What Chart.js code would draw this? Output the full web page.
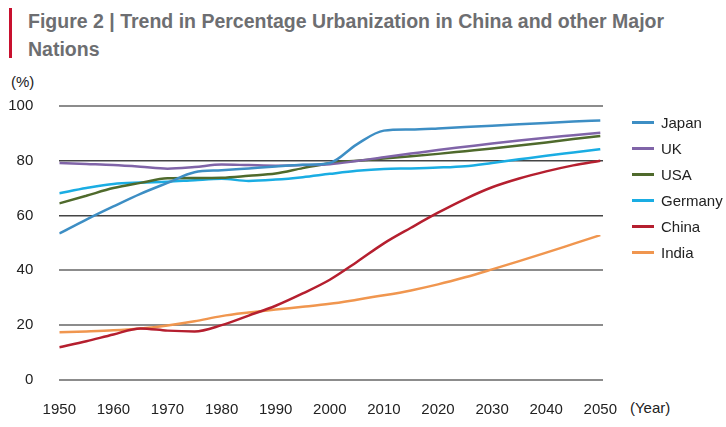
<!DOCTYPE html>
<html>
<head>
<meta charset="utf-8">
<script src="https://cdn.jsdelivr.net/npm/chart.js@4"></script>
<style>
  body { margin: 0; background: #fff; font-family: "Liberation Sans", Arial, sans-serif; }
  #wrap { position: relative; width: 726px; height: 427px; overflow: hidden; }
  #bar { position: absolute; left: 9px; top: 8px; width: 3px; height: 50px; background: #c8102e; }
  #title { position: absolute; left: 28px; top: 7px; font-size: 19.5px; line-height: 28px; font-weight: bold; color: #6d6e71; white-space: nowrap; }
  .unit { position: absolute; font-size: 15px; line-height: 15px; color: #222; }
  #legend { position: absolute; left: 0; top: 0; }
  .item { position: absolute; font-size: 15px; line-height: 15px; color: #222; }
  .item span { position: absolute; left: -29px; top: 6px; width: 22px; height: 3px; }
  canvas { position: absolute; left: 0; top: 0; }
</style>
</head>
<body>
<div id="wrap">
  <div id="bar"></div>
  <div id="title">Figure 2 | Trend in Percentage Urbanization in China and other Major<br>Nations</div>
  <div class="unit" style="left:11px; top:74px;">(%)</div>
  <div class="unit" style="left:630px; top:400px;">(Year)</div>
  <canvas id="chart" width="726" height="427"></canvas>
  <div id="legend"></div>
</div>
<script>
// Urbanisation (%), every 5 years
var years = [1950, 1955, 1960, 1965, 1970, 1975, 1980, 1985, 1990, 1995, 2000,
             2005, 2010, 2015, 2020, 2025, 2030, 2035, 2040, 2045, 2050];
var japan   = [53.4, 58.5, 63.3, 67.9, 71.9, 75.8, 76.5, 77.2, 77.9, 78.5, 79.2, 86.0, 91.0, 91.4, 91.8, 92.3, 92.8, 93.3, 93.8, 94.3, 94.7];
var uk      = [79.2, 78.8, 78.4, 77.8, 77.1, 77.7, 78.6, 78.4, 78.2, 78.4, 78.7, 79.9, 81.3, 82.6, 83.9, 85.1, 86.3, 87.4, 88.4, 89.3, 90.2];
var usa     = [64.4, 67.2, 70.0, 71.9, 73.6, 73.7, 73.8, 74.5, 75.3, 77.3, 79.1, 80.0, 80.8, 81.6, 82.5, 83.5, 84.5, 85.6, 86.7, 87.9, 89.0];
var germany = [68.1, 70.0, 71.5, 72.0, 72.3, 72.9, 73.4, 72.6, 73.1, 74.0, 75.2, 76.3, 77.0, 77.2, 77.5, 78.0, 79.2, 80.5, 81.8, 83.0, 84.2];
var china   = [11.8, 14.0, 16.5, 18.7, 17.9, 17.6, 19.9, 23.4, 27.0, 31.5, 36.5, 43.0, 49.8, 55.5, 61.0, 66.0, 70.3, 73.5, 76.1, 78.3, 80.0];
var india   = [17.3, 17.6, 18.0, 18.7, 19.8, 21.3, 23.2, 24.5, 25.6, 26.6, 27.7, 29.2, 30.8, 32.6, 34.8, 37.4, 40.3, 43.3, 46.4, 49.6, 52.8];

var nations = ['Japan', 'UK', 'USA', 'Germany', 'China', 'India'];
var series  = [japan, uk, usa, germany, china, india];
var couleurs = ['#3d8ec4', '#8064a8', '#4f6a2c', '#1aade3', '#b51f2f', '#f0964f'];

var xTicks = [1950, 1960, 1970, 1980, 1990, 2000, 2010, 2020, 2030, 2040, 2050];
var yTicks = [0, 20, 40, 60, 80, 100];

var police = { family: '"Liberation Sans", Arial, sans-serif', size: 15 };

var datasets = series.map(function (vals, i) {
  return {
    label: nations[i],
    data: vals.map(function (v, j) { return { x: years[j], y: v }; }),
    borderColor: couleurs[i],
    backgroundColor: couleurs[i],
    borderWidth: 2.5,
    pointRadius: 0,
    cubicInterpolationMode: 'monotone',
    fill: false
  };
});

var ctx = document.getElementById('chart').getContext('2d');
var chart = new Chart(ctx, {
  type: 'line',
  data: { datasets: datasets },
  options: {
    responsive: false,
    animation: false,
    layout: { padding: { top: 106, right: 123, bottom: 0, left: 0 } },
    plugins: { legend: { display: false }, tooltip: { enabled: false } },
    scales: {
      x: {
        type: 'linear',
        min: 1950,
        max: 2050.5,
        afterBuildTicks: function (s) { s.ticks = xTicks.map(function (v) { return { value: v }; }); },
        afterFit: function (s) { s.height = 47.4; },
        grid: { display: false },
        border: { display: false },
        ticks: { color: '#222', font: police, padding: 13, maxRotation: 0,
                 callback: function (v) { return String(v); } }
      },
      y: {
        min: 0,
        max: 100,
        afterBuildTicks: function (s) { s.ticks = yTicks.map(function (v) { return { value: v }; }); },
        afterFit: function (s) { s.width = 59.3; },
        border: { display: false },
        grid: {
          drawTicks: false,
          color: function (c) { return (c.tick && (c.tick.value === 80 || c.tick.value === 60)) ? '#444' : '#8c8c8c'; },
          lineWidth: function (c) { return (c.tick && (c.tick.value === 80 || c.tick.value === 60)) ? 1.5 : 2; }
        },
        ticks: { color: '#222', font: police, padding: 26 }
      }
    }
  }
});

// Légende à droite
var leg = document.getElementById('legend');
nations.forEach(function (n, i) {
  var d = document.createElement('div');
  d.className = 'item';
  d.style.left = '661px';
  d.style.top = (115 + i * 26) + 'px';
  d.innerHTML = '<span style="background:' + couleurs[i] + '"></span>' + n;
  leg.appendChild(d);
});
</script>
</body>
</html>
